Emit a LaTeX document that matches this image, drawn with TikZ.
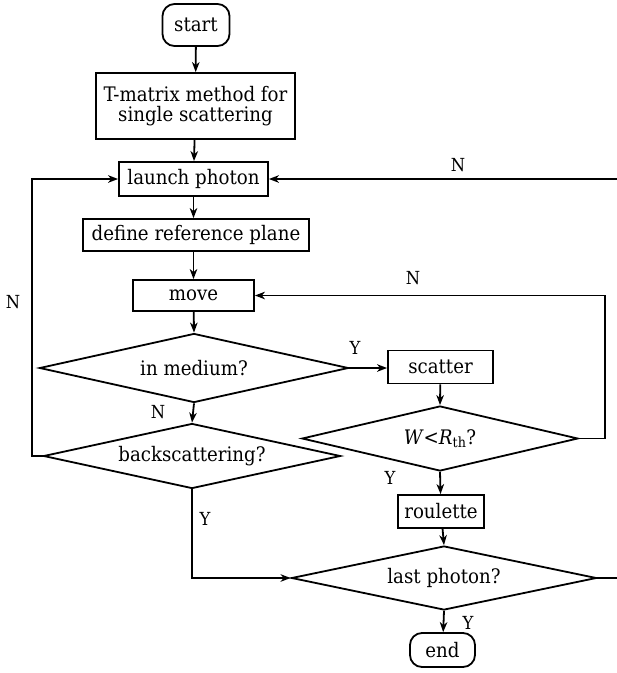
\documentclass[tikz,border=0pt]{standalone}
\usepackage{fontspec}
\setmainfont{DejaVu Serif}[FakeStretch=0.91]
\usetikzlibrary{arrows.meta,shapes.geometric,calc}
\begin{document}
\begin{tikzpicture}[x=1pt,y=-1pt,
  every node/.style={font=\fontsize{20}{23}\selectfont},
  >={Stealth[length=10pt,width=7.5pt,inset=3pt]},
  line/.style={line width=1.8pt},
  box/.style={draw,line width=1.8pt,rectangle,inner sep=0pt,align=center},
  term/.style={draw,line width=1.8pt,rectangle,rounded corners=12pt,inner sep=0pt},
  dec/.style={draw,line width=1.8pt,diamond,inner sep=0pt,shape aspect=4.5},
  lbl/.style={inner sep=0pt,font=\fontsize{18}{20}\selectfont}]
\useasboundingbox (0,0) rectangle (617,673);
\node[term,minimum width=67pt,minimum height=42pt] (start) at (196,25) {start};
\node[box,minimum width=199pt,minimum height=66pt] (tm) at (195.5,106) {T-matrix method for\\[-3pt]single scattering};
\node[box,minimum width=149pt,minimum height=34pt] (launch) at (193.5,179) {launch photon};
\node[box,minimum width=226pt,minimum height=32pt] (define) at (196,235) {define reference plane};
\node[box,minimum width=121pt,minimum height=31pt] (move) at (193.5,295.5) {move};
\node[dec,minimum width=309pt,minimum height=69pt] (inmed) at (194,368) {in medium?};
\node[dec,minimum width=297pt,minimum height=65pt] (back) at (192,456) {backscattering?};
\node[box,minimum width=105pt,minimum height=33pt] (scatter) at (440.5,367) {scatter};
\node[dec,minimum width=276pt,minimum height=65pt] (wrt) at (440,438.5) {\textit{W}<\textit{R}\textsubscript{th}?};
\node[box,minimum width=86pt,minimum height=33pt] (roulette) at (441,511.5) {roulette};
\node[dec,minimum width=305pt,minimum height=64pt] (last) at (444,578) {last photon?};
\node[term,minimum width=65pt,minimum height=34pt] (end) at (442.5,650) {end};
\coordinate (lx) at (32,456);
\coordinate (by) at (192,578);
\coordinate (rx) at (605,438.5);
\coordinate (ex) at (625,578);
\draw[line,->] (start) -- (tm);
\draw[line,->] (tm) -- (launch);
\draw[line,->] (launch) -- (launch.south |- define.north);
\draw[line,->] (launch.south |- define.south) -- (launch.south |- move.north);
\draw[line,->] (move) -- (inmed.north);
\draw[line,->] (inmed.east) -- (inmed.east -| scatter.west);
\draw[line,->] (inmed.south) -- (back.north);
\draw[line,->] (scatter) -- (wrt.north);
\draw[line,->] (wrt.south) -- (roulette);
\draw[line,->] (roulette) -- (last.north);
\draw[line,->] (last.south) -- (end);
\draw[line,->] (back.west) -- (lx) |- (launch.west);
\draw[line,->] (back.south) -- (by) -- (last.west);
\draw[line,->] (wrt.east) -- (rx) |- (move.east);
\draw[line,->] (last.east) -- (ex) |- (launch.east);
\node[lbl] (n1) at (458,165) {N};
\node[lbl] (n2) at (413,278) {N};
\node[lbl] (n3) at (13,302) {N};
\node[lbl] (y1) at (355,348) {Y};
\node[lbl] (n4) at (158,412) {N};
\node[lbl] (y2) at (390,478) {Y};
\node[lbl] (y3) at (205,519) {Y};
\node[lbl] (y4) at (468,623) {Y};
\end{tikzpicture}
\end{document}
